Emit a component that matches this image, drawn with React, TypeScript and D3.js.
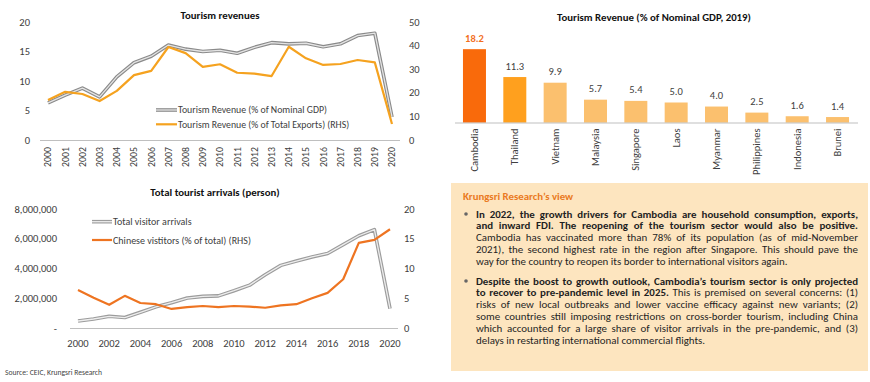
import React, { useEffect, useRef } from "react";
import * as d3 from "d3";

const FONT = "Carlito, Calibri, Lato, 'Open Sans', sans-serif";

// ---- Chart 1: Tourism revenues ----
const revYears = [2000, 2001, 2002, 2003, 2004, 2005, 2006, 2007, 2008, 2009, 2010, 2011, 2012, 2013, 2014, 2015, 2016, 2017, 2018, 2019, 2020];
const revGdp = [6.3, 7.6, 8.8, 7.3, 10.7, 13.1, 14.2, 16.1, 15.4, 15.0, 15.2, 14.7, 15.7, 16.5, 16.3, 16.4, 15.8, 16.3, 17.7, 18.1, 3.9];
const revExports = [16.9, 20.4, 19.5, 16.5, 20.8, 27.5, 29.3, 39.4, 36.8, 31.0, 32.1, 28.5, 28.1, 27.1, 39.5, 34.6, 31.8, 32.2, 33.9, 32.9, 6.8];
const revLeftTicks = [0, 5, 10, 15, 20];
const revRightTicks = [0, 10, 20, 30, 40, 50];

// ---- Chart 2: Total tourist arrivals ----
const arrYears = [2000, 2001, 2002, 2003, 2004, 2005, 2006, 2007, 2008, 2009, 2010, 2011, 2012, 2013, 2014, 2015, 2016, 2017, 2018, 2019, 2020];
const arrTotal = [470000, 605000, 787000, 701000, 1055000, 1422000, 1700000, 2015000, 2125000, 2162000, 2508000, 2882000, 3584000, 4210000, 4503000, 4775000, 5012000, 5602000, 6201000, 6611000, 1306000];
const arrChinaShare = [6.4, 5.1, 3.9, 5.4, 4.2, 4.0, 3.2, 3.5, 3.7, 3.5, 3.7, 3.6, 3.4, 3.8, 4.0, 5.0, 5.9, 8.2, 14.3, 14.8, 16.6];
const arrLeftTicks = [0, 2000000, 4000000, 6000000, 8000000];
const arrRightTicks = [0, 5, 10, 15, 20];
const arrYearTicks = [2000, 2002, 2004, 2006, 2008, 2010, 2012, 2014, 2016, 2018, 2020];

// ---- Chart 3: Tourism Revenue (% of Nominal GDP, 2019) ----
const countries = ["Cambodia", "Thailand", "Vietnam", "Malaysia", "Singapore", "Laos", "Myanmar", "Philippines", "Indonesia", "Brunei"];
const countryValues = [18.2, 11.3, 9.9, 5.7, 5.4, 5.0, 4.0, 2.5, 1.6, 1.4];

// ---- Text box ----
type Seg = { t: string; b?: boolean };
type Line = { segs: Seg[]; justify: boolean };
const bullet1: Line[] = [
  { segs: [{ t: "In 2022, the growth drivers for Cambodia are household consumption, exports,", b: true }], justify: true },
  { segs: [{ t: "and inward FDI. The reopening of the tourism sector would also be positive.", b: true }], justify: true },
  { segs: [{ t: "Cambodia has vaccinated more than 78% of its population (as of mid-November" }], justify: true },
  { segs: [{ t: "2021), the second highest rate in the region after Singapore. This should pave the" }], justify: true },
  { segs: [{ t: "way for the country to reopen its border to international visitors again." }], justify: false },
];
const bullet2: Line[] = [
  { segs: [{ t: "Despite the boost to growth outlook, Cambodia\u2019s tourism sector is only projected", b: true }], justify: true },
  { segs: [{ t: "to recover to pre-pandemic level in 2025.", b: true }, { t: " This is premised on several concerns: (1)" }], justify: true },
  { segs: [{ t: "risks of new local outbreaks and lower vaccine efficacy against new variants; (2)" }], justify: true },
  { segs: [{ t: "some countries still imposing restrictions on cross-border tourism, including China" }], justify: true },
  { segs: [{ t: "which accounted for a large share of visitor arrivals in the pre-pandemic, and (3)" }], justify: true },
  { segs: [{ t: "delays in restarting international commercial flights." }], justify: false },
];

const GRAY_OUT = "#8a8a8a";
const GRAY_IN = "#e4e4e4";
const AMBER = "#F5A21F";
const ORANGE = "#EE7421";
const TXT = "#404040";

function DoubleLine({ d, outer = GRAY_OUT, inner = GRAY_IN }: { d: string; outer?: string; inner?: string }) {
  return (
    <g fill="none" strokeLinejoin="round">
      <path d={d} stroke={outer} strokeWidth={3.6} />
      <path d={d} stroke={inner} strokeWidth={1.3} />
    </g>
  );
}

export default function App() {
  const ref = useRef<SVGSVGElement>(null);

  useEffect(() => {
    if (!ref.current) return;
    const root = d3.select(ref.current);
    const boxLines = root.selectAll<SVGTextElement, unknown>("text.boxline");
    // fit font so the first (bold, justified) line is close to the column width
    const first = root.select<SVGTextElement>("text.fitref").node();
    if (first) {
      const base = 10;
      boxLines.attr("font-size", base);
      const w = first.getComputedTextLength();
      const size = Math.min(10.9, Math.max(8.5, (base * 378) / w));
      boxLines.attr("font-size", size);
    }
    root.selectAll<SVGTextElement, unknown>("text.justify").each(function () {
      const el = this;
      el.style.wordSpacing = "0px";
      const w = el.getComputedTextLength();
      const target = +(el.getAttribute("data-width") || 0);
      const spaces = ((el.textContent || "").match(/ /g) || []).length;
      if (spaces > 0) el.style.wordSpacing = `${(target - w) / spaces}px`;
    });
  }, []);

  // Chart 1 scales
  const x1 = d3.scalePoint<number>().domain(revYears).range([48, 392]);
  const y1L = d3.scaleLinear().domain([0, 20]).range([140, 22]);
  const y1R = d3.scaleLinear().domain([0, 50]).range([140, 22]);
  const line1G = d3.line<number>().x((_, i) => x1(revYears[i])!).y((v) => y1L(v));
  const line1E = d3.line<number>().x((_, i) => x1(revYears[i])!).y((v) => y1R(v));

  // Chart 2 scales
  const x2 = d3.scalePoint<number>().domain(arrYears).range([78, 390]);
  const y2L = d3.scaleLinear().domain([0, 8000000]).range([328, 209]);
  const y2R = d3.scaleLinear().domain([0, 20]).range([328, 209]);
  const line2T = d3.line<number>().x((_, i) => x2(arrYears[i])!).y((v) => y2L(v));
  const line2C = d3.line<number>().x((_, i) => x2(arrYears[i])!).y((v) => y2R(v));
  const fmtM = d3.format(",");

  // Chart 3 scales
  const x3 = d3.scaleBand<string>().domain(countries).range([442.8, 869.2]).paddingInner(0.43).paddingOuter(0.5);
  const y3 = d3.scaleLinear().domain([0, 20]).range([122.7, 41.9]);
  const barColor = (i: number) => (i === 0 ? "#F96A0B" : i === 1 ? "#FFA01E" : "#FBC06E");

  const lineH = 11.8;
  const textX = 476;
  const textW = 382;

  const renderLines = (lines: Line[], startY: number, key: string) =>
    lines.map((ln, i) => (
      <text
        key={key + i}
        className={"boxline" + (ln.justify ? " justify" : "") + (key === "b1" && i === 0 ? " fitref" : "")}
        data-width={textW}
        x={textX}
        y={startY + i * lineH}
        fontSize={10}
        fill="#1f1f1f"
        style={{ whiteSpace: "pre" }}
      >
        {ln.segs.map((s, j) => (
          <tspan key={j} fontWeight={s.b ? 700 : 400}>
            {s.t}
          </tspan>
        ))}
      </text>
    ));

  return (
    <div style={{ position: "absolute", left: 0, top: 0 }}>
      <svg ref={ref} width={870} height={382} style={{ display: "block", fontFamily: FONT }}>
        <rect width={870} height={382} fill="#fff" />

        {/* ===== Chart 1 ===== */}
        <text x={220} y={19} textAnchor="middle" fontWeight={700} fontSize={10.8} fill="#111">
          Tourism revenues
        </text>
        {revLeftTicks.map((t) => (
          <text key={"l1" + t} x={30} y={y1L(t) + 3.6} textAnchor="end" fontSize={10.5} fill={TXT}>
            {t}
          </text>
        ))}
        {revRightTicks.map((t) => (
          <text key={"r1" + t} x={409} y={y1R(t) + 3.6} textAnchor="start" fontSize={10.5} fill={TXT}>
            {t}
          </text>
        ))}
        <line x1={40} x2={400} y1={140.5} y2={140.5} stroke="#bfbfbf" strokeWidth={1} />
        {revYears.map((yr) => (
          <text
            key={"yr1" + yr}
            transform={`translate(${x1(yr)! + 3.4},147) rotate(-90)`}
            textAnchor="end"
            fontSize={9.8}
            fill={TXT}
          >
            {yr}
          </text>
        ))}
        <DoubleLine d={line1G(revGdp)!} />
        <path d={line1E(revExports)!} fill="none" stroke={AMBER} strokeWidth={2.2} strokeLinejoin="round" />
        {/* legend */}
        <DoubleLine d="M156,110H177" />
        <text x={178} y={113.3} fontSize={9.8} fill={TXT}>
          Tourism Revenue (% of Nominal GDP)
        </text>
        <path d="M156,124.3H177" stroke={AMBER} strokeWidth={2.2} />
        <text x={178} y={127.6} fontSize={9.8} fill={TXT}>
          Tourism Revenue (% of Total Exports) (RHS)
        </text>

        {/* ===== Chart 2 ===== */}
        <text x={215} y={196} textAnchor="middle" fontWeight={700} fontSize={10.8} fill="#111">
          Total tourist arrivals (person)
        </text>
        {arrLeftTicks.map((t) => (
          <text key={"l2" + t} x={57} y={y2L(t) + 3.6} textAnchor="end" fontSize={10.5} fill={TXT}>
            {t === 0 ? "-" : fmtM(t)}
          </text>
        ))}
        {arrRightTicks.map((t) => (
          <text key={"r2" + t} x={404} y={y2R(t) + 3.6} textAnchor="start" fontSize={10.5} fill={TXT}>
            {t}
          </text>
        ))}
        <line x1={70} x2={398} y1={328.5} y2={328.5} stroke="#bfbfbf" strokeWidth={1} />
        {arrYearTicks.map((yr) => (
          <text key={"yr2" + yr} x={x2(yr)!} y={347} textAnchor="middle" fontSize={10.5} fill={TXT}>
            {yr}
          </text>
        ))}
        <DoubleLine d={line2T(arrTotal)!} outer="#9c9c9c" inner="#ededed" />
        <path d={line2C(arrChinaShare)!} fill="none" stroke={ORANGE} strokeWidth={2.2} strokeLinejoin="round" />
        {/* legend */}
        <DoubleLine d="M92,221.7H112" outer="#9c9c9c" inner="#ededed" />
        <text x={113} y={225.2} fontSize={10} fill={TXT}>
          Total visitor arrivals
        </text>
        <path d="M92,240H112" stroke={ORANGE} strokeWidth={2.2} />
        <text x={113} y={243.5} fontSize={10} fill={TXT}>
          Chinese vistitors (% of total) (RHS)
        </text>

        <text x={5} y={374.5} fontSize={7.6} fill="#444">
          Source: CEIC, Krungsri Research
        </text>

        {/* ===== Chart 3 ===== */}
        <text x={654} y={20.5} textAnchor="middle" fontWeight={700} fontSize={10.8} fill="#111">
          Tourism Revenue (% of Nominal GDP, 2019)
        </text>
        {countries.map((c, i) => {
          const v = countryValues[i];
          const bx = x3(c)!;
          const bw = x3.bandwidth();
          return (
            <g key={c}>
              <rect x={bx} y={y3(v)} width={bw} height={y3(0) - y3(v)} fill={barColor(i)} />
              <text
                x={bx + bw / 2}
                y={y3(v) - 7.5}
                textAnchor="middle"
                fontSize={10.5}
                fontWeight={i === 0 ? 700 : 400}
                fill={i === 0 ? "#F26F1E" : TXT}
              >
                {v.toFixed(1)}
              </text>
              <text
                transform={`translate(${bx + bw / 2 + 3.6},128.5) rotate(-90)`}
                textAnchor="end"
                fontSize={10.5}
                fill={TXT}
              >
                {c}
              </text>
            </g>
          );
        })}
        <line x1={455} x2={858} y1={123} y2={123} stroke="#bfbfbf" strokeWidth={1} />

        {/* ===== Text box ===== */}
        <rect x={451} y={183} width={417} height={188} fill="#FDE5BF" />
        <text x={463} y={199.8} fontSize={10.8} fontWeight={700} fill="#EA7A22">
          Krungsri Research{"\u2019"}s view
        </text>
        <circle cx={466} cy={214} r={1.8} fill="#666" />
        <circle cx={466} cy={281} r={1.8} fill="#666" />
        {renderLines(bullet1, 217.6, "b1")}
        {renderLines(bullet2, 284.6, "b2")}
      </svg>
    </div>
  );
}
